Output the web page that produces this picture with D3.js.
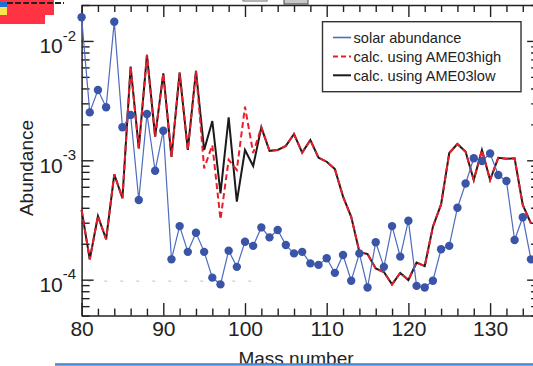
<!DOCTYPE html>
<html>
<head>
<meta charset="utf-8">
<script src="https://cdn.jsdelivr.net/npm/d3@7"></script>
<style>
  html, body { margin: 0; padding: 0; background: #fff; overflow: hidden; }
  svg { display: block; }
  text { font-family: "Liberation Sans", Arial, Helvetica, sans-serif; fill: #222; }
</style>
</head>
<body>
<svg id="chart" width="533" height="366"></svg>
<script>
// Mass numbers A = 80 ... 135
const massNumbers = d3.range(80, 136);

// Solar system abundances (blue markers)
const solarAbundance = [
  0.0158, 0.00252, 0.00388, 0.00278, 0.0145, 0.00189, 0.0024, 4.65e-4, 0.00244, 8.18e-4,
  0.00177, 1.48e-4, 2.81e-4, 1.71e-4, 2.47e-4, 1.71e-4, 1.04e-4, 9.13e-5, 1.75e-4, 1.28e-4,
  2.08e-4, 1.92e-4, 2.74e-4, 2.26e-4, 2.61e-4, 1.95e-4, 1.66e-4, 1.71e-4, 1.37e-4, 1.33e-4,
  1.51e-4, 1.14e-4, 1.61e-4, 9.8e-5, 1.66e-4, 8.6e-5, 2.06e-4, 1.28e-4, 2.81e-4, 1.56e-4,
  3.12e-4, 8.87e-5, 8.6e-5, 9.8e-5, 1.80e-4, 1.92e-4, 4.0e-4, 6.4e-4, 1.04e-3, 9.87e-4,
  1.14e-3, 7.53e-4, 6.7e-4, 2.15e-4, 3.33e-4, 1.48e-4
];

// Calculated abundances with the AME03 "low" mass set (black solid)
const calcLow = [
  3.83e-4, 1.48e-4, 3.41e-4, 2.18e-4, 7.64e-4, 4.81e-4, 6.09e-3, 1.26e-3, 7.64e-3, 1.58e-3,
  5.36e-3, 1.07e-3, 5.43e-3, 1.22e-3, 5.61e-3, 1.22e-3, 2.13e-3, 5.28e-4, 2.29e-3, 4.50e-4,
  1.22e-3, 8.96e-4, 1.89e-3, 1.20e-3, 1.22e-3, 1.32e-3, 1.66e-3, 1.16e-3, 1.48e-3, 1.05e-3,
  9.73e-4, 8.45e-4, 4.96e-4, 3.36e-4, 1.71e-4, 1.64e-4, 1.24e-4, 1.16e-4, 9.13e-5, 1.14e-4,
  9.93e-5, 1.39e-4, 1.30e-4, 2.78e-4, 4.27e-4, 1.15e-3, 1.37e-3, 1.18e-3, 6.84e-4, 1.22e-3,
  6.84e-4, 1.05e-3, 1.03e-3, 1.04e-3, 4.22e-4, 2.96e-4
];

// Calculated abundances with the AME03 "high" mass set (red dashed)
const calcHigh = [
  3.83e-4, 1.48e-4, 3.41e-4, 2.18e-4, 7.64e-4, 4.81e-4, 6.09e-3, 1.26e-3, 7.64e-3, 1.58e-3,
  5.36e-3, 1.07e-3, 5.43e-3, 1.22e-3, 5.61e-3, 8.57e-4, 1.34e-3, 3.20e-4, 1.01e-3, 8.30e-4,
  2.81e-3, 1.15e-3, 1.89e-3, 1.20e-3, 1.22e-3, 1.32e-3, 1.66e-3, 1.16e-3, 1.48e-3, 1.05e-3,
  9.73e-4, 8.45e-4, 4.96e-4, 3.36e-4, 1.71e-4, 1.64e-4, 1.24e-4, 1.16e-4, 9.13e-5, 1.14e-4,
  9.93e-5, 1.39e-4, 1.30e-4, 2.78e-4, 4.27e-4, 1.15e-3, 1.37e-3, 1.18e-3, 6.84e-4, 1.22e-3,
  6.84e-4, 1.05e-3, 1.03e-3, 1.04e-3, 4.22e-4, 2.96e-4
];

const xMajorTicks = [80, 90, 100, 110, 120, 130];
const yMajorExponents = [-2, -3, -4];
const legendLabels = ["solar abundance", "calc. using AME03high", "calc. using AME03low"];

const C = { blue: "#3a55a8", blueLine: "#4d6bc0", red: "#ec1d2a", black: "#1b1b1b", axis: "#222" };

const svg = d3.select("#chart");

// Plot frame
const L = 81.6, T = 5, B = 315.6;
const x = d3.scaleLinear().domain([80, 136]).range([L, L + 8.17 * 56]);
const y = d3.scaleLog().domain([5e-5, 2e-2]).range([B, T]);
const R = x(136);

// Window decorations at the top edge
const deco = svg.append("g");
deco.append("rect").attr("x", 0).attr("y", 0).attr("width", 54).attr("height", 15).attr("fill", "#ff3344");
deco.append("rect").attr("x", 0).attr("y", 15).attr("width", 45).attr("height", 9).attr("fill", "#ff3344");
deco.append("rect").attr("x", 0).attr("y", 2).attr("width", 7).attr("height", 5).attr("fill", "#1d6fd6");
deco.append("rect").attr("x", 0).attr("y", 7).attr("width", 7).attr("height", 8).attr("fill", "#f6e34e");
deco.append("line").attr("x1", 7).attr("x2", 64).attr("y1", 3).attr("y2", 3)
  .attr("stroke", "#222").attr("stroke-width", 2).attr("stroke-dasharray", "6,2");
deco.append("rect").attr("x", 243).attr("y", -3).attr("width", 24).attr("height", 4)
  .attr("fill", "#fff").attr("stroke", "#666");
deco.append("rect").attr("x", 284).attr("y", -3).attr("width", 24).attr("height", 7)
  .attr("fill", "#c8c8c8").attr("stroke", "#444");

// Faint reference line at 1e-4
svg.append("line")
  .attr("x1", x(80.8)).attr("x2", x(101)).attr("y1", y(1e-4) + 1.5).attr("y2", y(1e-4) + 1.5)
  .attr("stroke", "#d0d0d0").attr("stroke-width", 1.2).attr("stroke-dasharray", "3,13");

// Axes: ticks point into the plot on all four sides
const xMinor = d3.range(80, 137, 2).filter(v => v % 10 !== 0);
const yMinor = [];
[-5, -4, -3, -2].forEach(e => d3.range(2, 10).forEach(m => {
  const v = m * Math.pow(10, e);
  if (v >= 5e-5 && v <= 2e-2) yMinor.push(v);
}));
const yMajor = yMajorExponents.map(e => Math.pow(10, e));

function styleAxis(g) {
  g.selectAll("path").attr("stroke", C.axis).attr("stroke-width", 1.5);
  g.selectAll("line").attr("stroke", C.axis).attr("stroke-width", 1.4);
}

// bottom
const gB = svg.append("g").attr("transform", `translate(0,${B})`);
gB.call(d3.axisBottom(x).tickValues(xMajorTicks).tickSize(-12.5).tickSizeOuter(0).tickPadding(5.5))
  .call(styleAxis);
gB.selectAll(".tick text").attr("font-size", 21).attr("fill", "#222")
  .attr("font-family", "Liberation Sans, Arial, sans-serif");
gB.append("g").call(d3.axisBottom(x).tickValues(xMinor).tickSize(-7).tickSizeOuter(0).tickFormat(""))
  .call(styleAxis).select(".domain").remove();

// top
const gT = svg.append("g").attr("transform", `translate(0,${T})`);
gT.call(d3.axisTop(x).tickValues(xMajorTicks).tickSize(-12).tickSizeOuter(0).tickFormat(""))
  .call(styleAxis);
gT.append("g").call(d3.axisTop(x).tickValues(xMinor).tickSize(-7).tickSizeOuter(0).tickFormat(""))
  .call(styleAxis).select(".domain").remove();

// left
const gL = svg.append("g").attr("transform", `translate(${L},0)`);
gL.call(d3.axisLeft(y).tickValues(yMajor).tickSize(-12).tickSizeOuter(0).tickPadding(5.5)
    .tickFormat(() => ""))
  .call(styleAxis);
gL.selectAll(".tick text").each(function (d) {
  const t = d3.select(this).attr("dy", null).attr("y", 12).attr("font-size", 21)
    .attr("font-family", "Liberation Sans, Arial, sans-serif").attr("fill", "#222");
  t.append("tspan").text("10");
  t.append("tspan").attr("font-size", 15).attr("dy", -12.7).text(String(Math.round(Math.log10(d))));
});
gL.append("g").call(d3.axisLeft(y).tickValues(yMinor).tickSize(-8).tickSizeOuter(0).tickFormat(""))
  .call(styleAxis).select(".domain").remove();

// right
const gR = svg.append("g").attr("transform", `translate(${R},0)`);
gR.call(d3.axisRight(y).tickValues(yMajor).tickSize(-12).tickSizeOuter(0).tickFormat(""))
  .call(styleAxis);
gR.append("g").call(d3.axisRight(y).tickValues(yMinor).tickSize(-8).tickSizeOuter(0).tickFormat(""))
  .call(styleAxis).select(".domain").remove();

// Series
const line = d3.line().x((d, i) => x(massNumbers[i])).y(d => y(d));

svg.append("path").datum(calcLow).attr("d", line)
  .attr("fill", "none").attr("stroke", C.black).attr("stroke-width", 2).attr("stroke-linejoin", "miter");

svg.append("path").datum(calcHigh).attr("d", line)
  .attr("fill", "none").attr("stroke", C.red).attr("stroke-width", 2)
  .attr("stroke-dasharray", "6,3.5");

svg.append("path").datum(solarAbundance).attr("d", line)
  .attr("fill", "none").attr("stroke", C.blueLine).attr("stroke-width", 1.2);

svg.append("g").selectAll("circle").data(solarAbundance).join("circle")
  .attr("cx", (d, i) => x(massNumbers[i])).attr("cy", d => y(d))
  .attr("r", 4.2).attr("fill", C.blue);

// Legend
const lg = svg.append("g");
lg.append("rect").attr("x", 322.5).attr("y", 21.7).attr("width", 198.5).attr("height", 70)
  .attr("fill", "#fff").attr("stroke", "#333").attr("stroke-width", 1.4);
const legendStyles = [
  { stroke: C.blueLine, dash: null, w: 1.6 },
  { stroke: C.red, dash: "5,3", w: 2 },
  { stroke: C.black, dash: null, w: 2 }
];
legendLabels.forEach((lab, i) => {
  const yy = 37.5 + i * 18.9;
  lg.append("line").attr("x1", 333).attr("x2", 351).attr("y1", yy).attr("y2", yy)
    .attr("stroke", legendStyles[i].stroke).attr("stroke-width", legendStyles[i].w)
    .attr("stroke-dasharray", legendStyles[i].dash);
  lg.append("text").attr("x", 353.5).attr("y", yy + 5.2).attr("font-size", 14.6).text(lab);
});

// Axis titles
svg.append("text").attr("transform", "translate(33,168) rotate(-90)")
  .attr("text-anchor", "middle").attr("font-size", 19).text("Abundance");
svg.append("text").attr("x", 296).attr("y", 365.3)
  .attr("text-anchor", "middle").attr("font-size", 19).text("Mass number");

// Blue rule along the bottom edge
svg.append("rect").attr("x", 55).attr("y", 363.2).attr("width", 478).attr("height", 2.5)
  .attr("fill", "#4a88d2");
</script>
</body>
</html>
